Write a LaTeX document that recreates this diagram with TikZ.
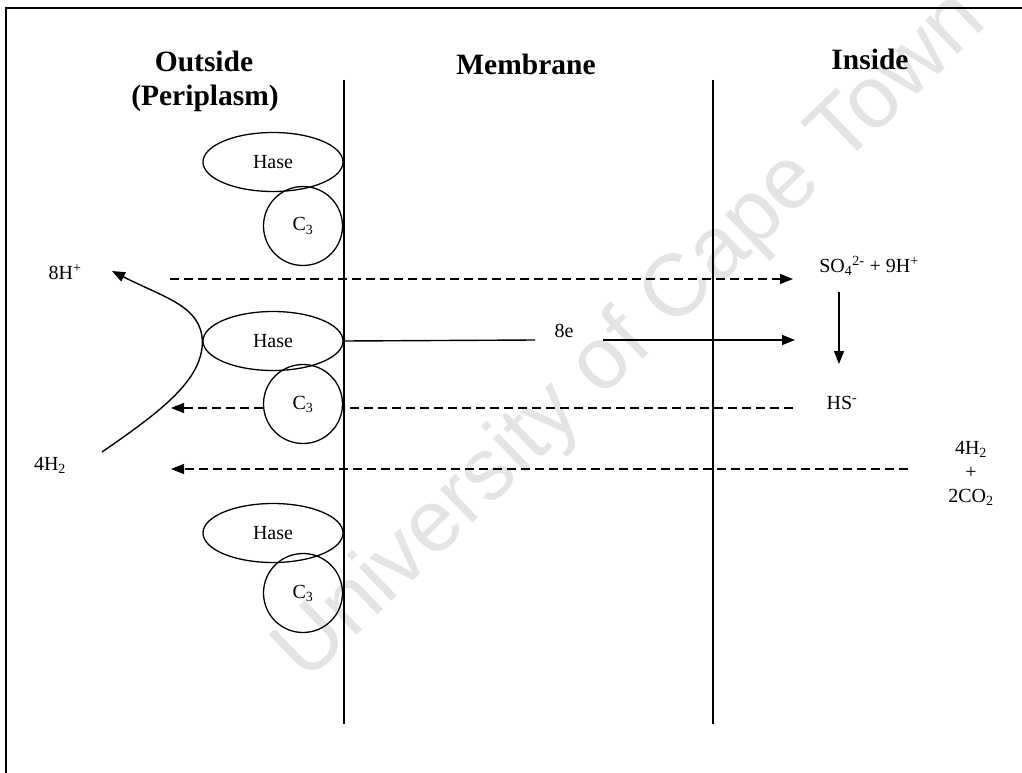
\documentclass[tikz,border=0pt]{standalone}
\usepackage{fontspec}
\setmainfont{Liberation Serif}
\newfontfamily\wmfont{Liberation Sans}
\usetikzlibrary{arrows.meta,shapes.geometric}
\definecolor{wmgray}{HTML}{E4E4E4}
\begin{document}
\begin{tikzpicture}[x=1pt,y=-1pt,
  ln/.style={line width=1.4pt},
  dsh/.style={line width=1.4pt, dash pattern=on 9pt off 5pt},
  tip/.style={-{Triangle[length=13pt,width=10pt]}},
  hase/.style={draw, line width=1.3pt, ellipse, minimum width=140pt, minimum height=59pt, inner sep=0pt, font=\fontsize{20}{20}\selectfont},
  cyt/.style={draw, line width=1.3pt, circle, minimum size=79pt, inner sep=0pt, font=\fontsize{20}{20}\selectfont},
  lbl/.style={font=\fontsize{20}{24}\selectfont, inner sep=0pt, align=center},
  ttl/.style={font=\bfseries\fontsize{29.5}{35}\selectfont, align=center, inner sep=0pt, anchor=base}]
\useasboundingbox (0,0) rectangle (1022,773);
% watermark
\node[wmgray, rotate=44, font=\wmfont\fontsize{88}{88}\selectfont] (wm) at (632,338) {University of Cape Town};
% frame
\draw[ln] (6,773) -- (6,8) -- (1022,8);
% titles
\node[ttl] (tout) at (204,72) {Outside};
\node[ttl] (tperi) at (205,106) {(Periplasm)};
\node[ttl] (tmem) at (526,75) {Membrane};
\node[ttl] (tins) at (870,70) {Inside};
% membrane
\coordinate (m1t) at (344,80); \coordinate (m1b) at (344,724);
\coordinate (m2t) at (713,80); \coordinate (m2b) at (713,724);
\draw[ln] (m1t) -- (m1b);
\draw[ln] (m2t) -- (m2b);
% enzymes
\node[hase] (h1) at (273,162) {Hase};
\node[cyt] (c1) at (303,226) {C\textsubscript{3}};
\node[hase] (h2) at (273,341) {Hase};
\node[cyt] (c2) at (303,404) {C\textsubscript{3}};
\node[hase] (h3) at (273,533) {Hase};
\node[cyt] (c3) at (303,593) {C\textsubscript{3}};
% labels
\node[lbl] (hp) at (65,272) {8H\textsuperscript{+}};
\node[lbl] (so4) at (869,266) {SO\textsubscript{4}\textsuperscript{2-} + 9H\textsuperscript{+}};
\node[lbl] (hs) at (842,403) {HS\textsuperscript{-}};
\node[lbl] (fh) at (50,465) {4H\textsubscript{2}};
\node[lbl] (co) at (971,473) {4H\textsubscript{2}\\+\\2CO\textsubscript{2}};
\node[lbl] (e8) at (564,331) {8e};
% top dashed arrow
\coordinate (d1s) at (170,279); \coordinate (d1e) at (793,279);
\draw[dsh,tip] (d1s) -- (d1e);
% electron transfer
\coordinate (e1) at (535,340); \coordinate (e2) at (603,340); \coordinate (e3) at (795,340);
\draw[ln] (h2.east) -- (e1);
\draw[ln,tip] (e2) -- (e3);
% sulfate reduction
\coordinate (s1) at (839,292); \coordinate (s2) at (839,364);
\draw[ln,tip] (s1) -- (s2);
% middle dashed arrow
\coordinate (d2s) at (793,408); \coordinate (d2e) at (171,408);
\draw[dsh] (d2s) -- (c2.east |- d2s);
\draw[dsh,tip] (c2.west |- d2s) -- (d2e);
% bottom dashed arrow
\coordinate (d3s) at (908,469); \coordinate (d3e) at (171,469);
\draw[dsh,tip] (d3s) -- (d3e);
% hydrogen oxidation curve
\coordinate (cv1) at (102,452); \coordinate (cv2) at (112,271);
\draw[ln,tip] (cv1) .. controls (160,412) and (203,380) .. (h2.west) .. controls (201,306) and (165,298) .. (cv2);
\end{tikzpicture}
\end{document}
